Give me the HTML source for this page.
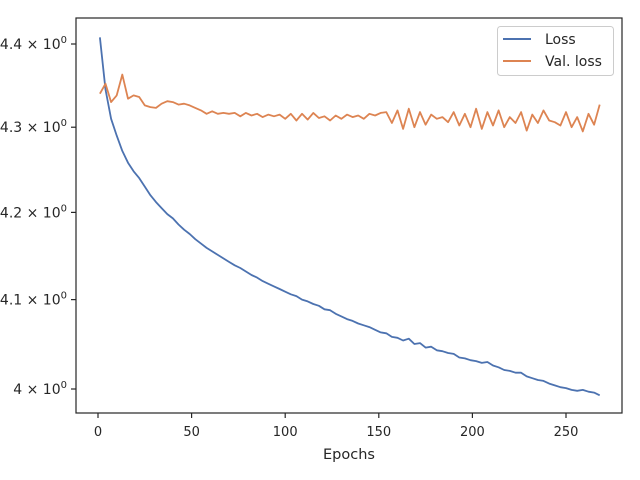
<!DOCTYPE html>
<html><head><meta charset="utf-8"><style>
body{margin:0;background:#fff}
svg{display:block;font-family:"DejaVu Sans","Liberation Sans",sans-serif}
</style></head><body>
<svg id="chart" width="640" height="480" viewBox="0 0 640 480">
<rect x="76" y="18" width="546" height="395" fill="#fff" stroke="#262626" stroke-width="1.2"/>
<g id="xt"></g><g id="yt"></g><g id="series"></g>
<text x="349" y="459" font-size="14.5" text-anchor="middle" fill="#262626">Epochs</text>
<g>
<rect x="497.5" y="26.5" width="116" height="49" rx="3" fill="#fff" stroke="#ccc"/>
<line x1="503" y1="39" x2="531" y2="39" stroke="#4c72b0" stroke-width="2"/>
<text x="545" y="44" font-size="14" fill="#262626">Loss</text>
<line x1="503" y1="61" x2="531" y2="61" stroke="#dd8452" stroke-width="2"/>
<text x="545" y="66" font-size="14" fill="#262626">Val. loss</text>
</g>
</svg>
<script>
const epochs=[1,4,7,10,13,16,19,22,25,28,31,34,37,40,43,46,49,52,55,58,61,64,67,70,73,76,79,82,85,88,91,94,97,100,103,106,109,112,115,118,121,124,127,130,133,136,139,142,145,148,151,154,157,160,163,166,169,172,175,178,181,184,187,190,193,196,199,202,205,208,211,214,217,220,223,226,229,232,235,238,241,244,247,250,253,256,259,262,265,268];
const lossValues=[4.408,4.345,4.31,4.29,4.272,4.258,4.248,4.24,4.23,4.22,4.212,4.205,4.198,4.193,4.186,4.180,4.175,4.169,4.164,4.159,4.155,4.151,4.147,4.143,4.139,4.136,4.132,4.128,4.125,4.121,4.118,4.115,4.112,4.109,4.106,4.104,4.100,4.098,4.095,4.093,4.089,4.088,4.084,4.081,4.078,4.076,4.073,4.071,4.069,4.066,4.063,4.062,4.058,4.057,4.054,4.056,4.050,4.051,4.046,4.047,4.043,4.042,4.040,4.039,4.035,4.034,4.032,4.031,4.029,4.030,4.026,4.024,4.021,4.020,4.018,4.018,4.014,4.012,4.010,4.009,4.006,4.004,4.002,4.001,3.999,3.998,3.999,3.997,3.996,3.993];
const valValues=[4.340,4.352,4.330,4.338,4.363,4.334,4.338,4.336,4.326,4.324,4.323,4.328,4.331,4.330,4.327,4.328,4.326,4.323,4.320,4.316,4.319,4.316,4.317,4.316,4.317,4.313,4.317,4.314,4.316,4.312,4.315,4.313,4.315,4.310,4.316,4.308,4.316,4.309,4.317,4.311,4.313,4.308,4.314,4.310,4.315,4.312,4.314,4.310,4.316,4.314,4.317,4.318,4.305,4.320,4.298,4.322,4.300,4.318,4.303,4.315,4.310,4.312,4.306,4.318,4.302,4.316,4.300,4.322,4.298,4.318,4.302,4.320,4.300,4.312,4.305,4.318,4.296,4.315,4.305,4.320,4.308,4.306,4.302,4.318,4.300,4.312,4.295,4.316,4.303,4.327];
const xTicks=[0,50,100,150,200,250];
const yTicks=[4.0,4.1,4.2,4.3,4.4];
const yTickLabels=["4","4.1","4.2","4.3","4.4"];

const NS="http://www.w3.org/2000/svg";
const X=v=>98+v*1.872;
const Y=v=>389-Math.log(v/4)/Math.log(1.1)*345;
function mk(tag,attrs,parent){const e=document.createElementNS(NS,tag);for(const k in attrs)e.setAttribute(k,attrs[k]);parent.appendChild(e);return e;}
const xt=document.getElementById('xt'),yt=document.getElementById('yt'),sg=document.getElementById('series');
xTicks.forEach(t=>{
  const l=mk('line',{x1:X(t),x2:X(t),y1:413,y2:418,stroke:'#262626','stroke-width':1.2},xt);
  
  
  const tx=mk('text',{x:X(t),y:436,'font-size':13,'text-anchor':'middle',fill:'#262626'},xt);
  tx.textContent=t;
  
  
});
yTicks.forEach((t,i)=>{
  const y=Y(t);
  const l=mk('line',{x1:71,x2:76,y1:y,y2:y,stroke:'#262626','stroke-width':1.2},yt);
  
  
  const tx=mk('text',{x:67,y:y+5,'font-size':14,'text-anchor':'end',fill:'#262626'},yt);
  tx.innerHTML=yTickLabels[i]+' × 10<tspan dy="-6" font-size="10">0</tspan>';
  
  
});
function line(vals,color,name){
  const d=vals.map((v,i)=>(i?'L':'M')+X(epochs[i]).toFixed(1)+','+Y(v).toFixed(1)).join('');
  const p=mk('path',{d:d,fill:'none',stroke:color,'stroke-width':1.8,'stroke-linejoin':'round'},sg);
  
  
}
line(lossValues,'#4c72b0','loss-line');
line(valValues,'#dd8452','val-loss-line');
</script>
</body></html>
